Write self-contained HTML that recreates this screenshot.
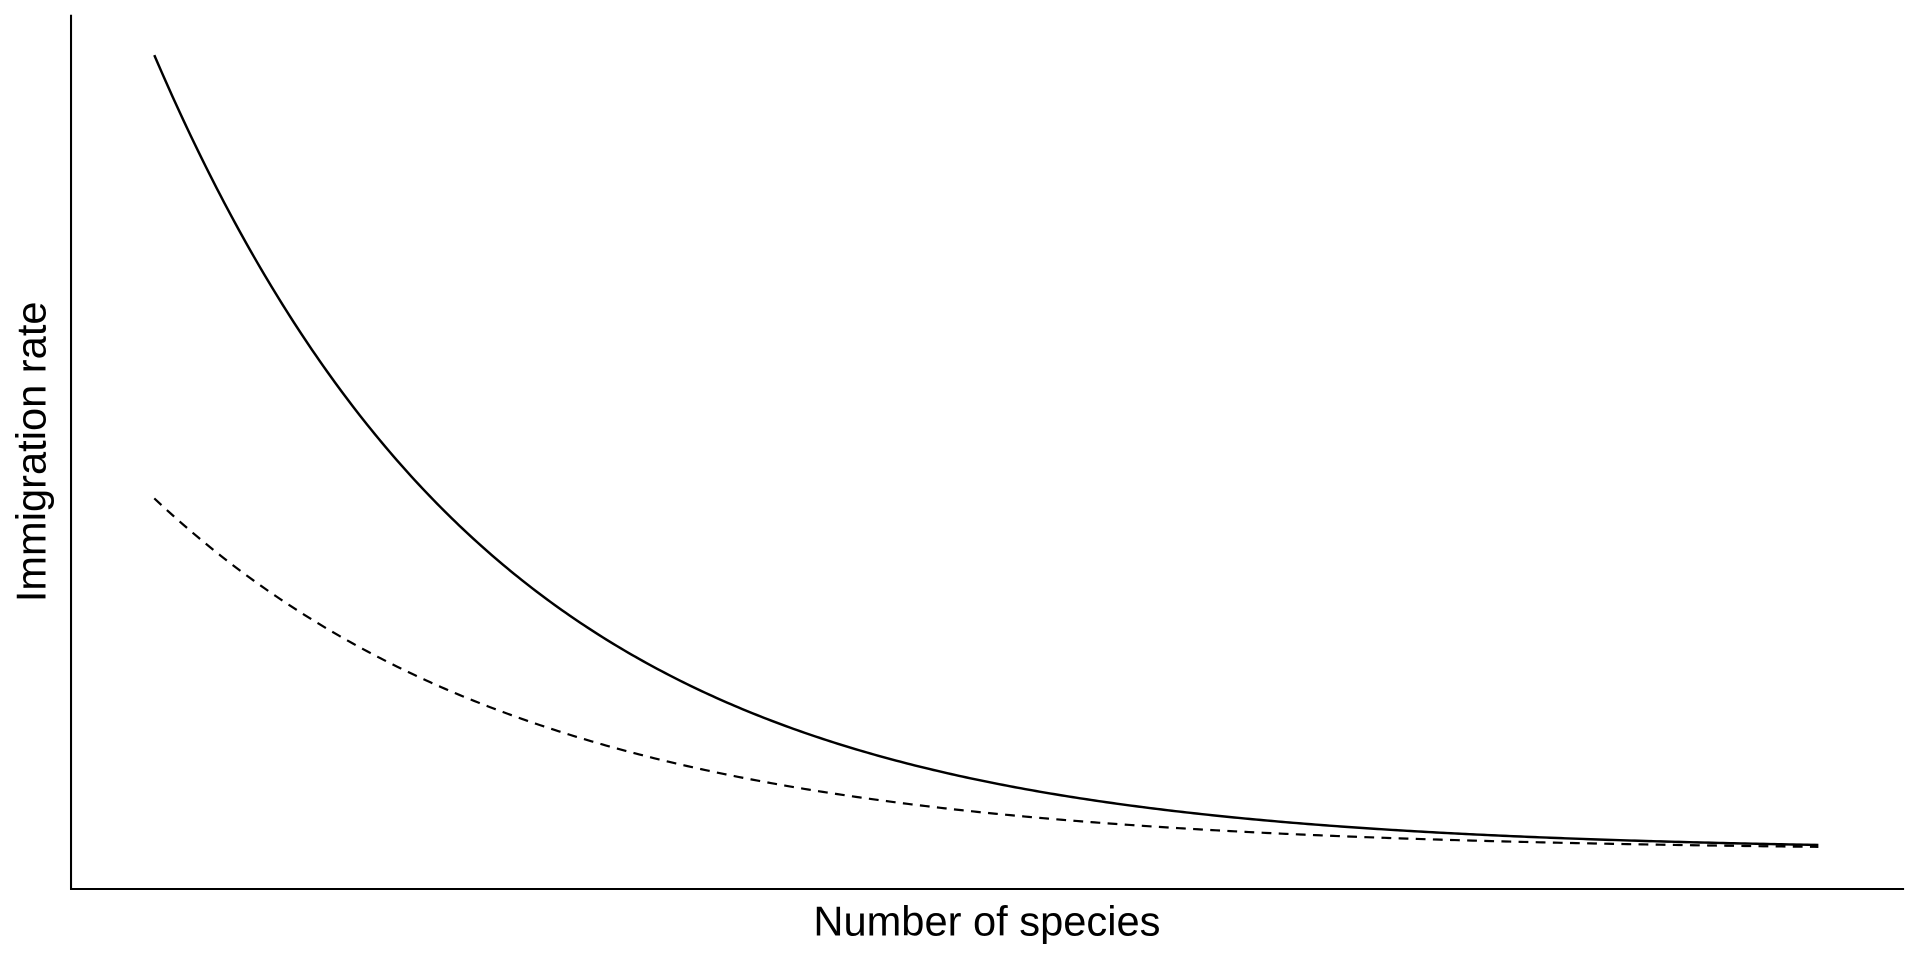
<!DOCTYPE html>
<html><head><meta charset="utf-8"><style>
html,body{margin:0;padding:0;background:#fff;}
svg{display:block;}
</style></head><body>
<svg id="s" width="1920" height="960" viewBox="0 0 1568 784" xmlns="http://www.w3.org/2000/svg">
<line x1="58" y1="12" x2="58" y2="726.5" stroke="#000" stroke-width="1.7"/>
<line x1="57.2" y1="726" x2="1555" y2="726" stroke="#000" stroke-width="1.7"/>
<path id="p1" fill="none" stroke="#000" stroke-width="2"/>
<path id="p2" fill="none" stroke="#000" stroke-width="1.8" stroke-dasharray="8,6"/>
<text x="806" y="764" font-family="Liberation Sans, sans-serif" font-size="34" text-anchor="middle">Number of species</text>
<text transform="translate(37,369) rotate(-90)" font-family="Liberation Sans, sans-serif" font-size="34" text-anchor="middle">Immigration rate</text>
</svg>
<script>
function mk(y0,Y,k){var A=Y-y0,d="";for(var x=126;x<=1487;x+=3){var y=Y-A*Math.exp(-k*(x-126));d+=(d?"L":"M")+x+","+y.toFixed(2);}return d;}
document.getElementById("p1").setAttribute("d",mk(45,695,0.00359));
document.getElementById("p2").setAttribute("d",mk(407,695,0.00327));
</script>
</body></html>
